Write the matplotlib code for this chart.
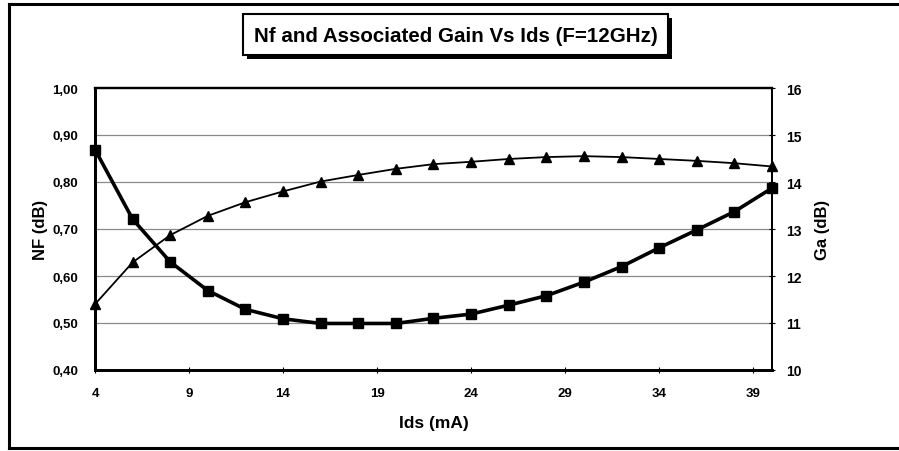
import numpy as np
import matplotlib
matplotlib.use("Agg")
import matplotlib.pyplot as plt
from matplotlib.patches import Rectangle
from matplotlib.lines import Line2D
from matplotlib.ticker import FuncFormatter

plt.rcParams['font.family'] = ['Liberation Sans', 'DejaVu Sans']
plt.rcParams['font.weight'] = 'bold'

# =========================================================
# DATA
# =========================================================
ids = [4, 6, 8, 10, 12, 14, 16, 18, 20, 22, 24, 26, 28, 30, 32, 34, 36, 38, 40]
nf = [0.869, 0.721, 0.630, 0.569, 0.529, 0.509, 0.499, 0.499, 0.499, 0.510, 0.519,
      0.538, 0.558, 0.587, 0.620, 0.660, 0.698, 0.737, 0.787]
ga = [11.40, 12.29, 12.87, 13.28, 13.57, 13.80, 14.01, 14.15, 14.28, 14.38, 14.43,
      14.49, 14.53, 14.55, 14.53, 14.49, 14.45, 14.40, 14.33]

x_ticks = [4, 9, 14, 19, 24, 29, 34, 39]
nf_ticks = [0.4, 0.5, 0.6, 0.7, 0.8, 0.9, 1.0]
ga_ticks = [10, 11, 12, 13, 14, 15, 16]

title = "Nf and Associated Gain Vs Ids (F=12GHz)"

# =========================================================
# FIGURE
# =========================================================
W, H = 899, 452
fig = plt.figure(figsize=(W / 100, H / 100), dpi=100)


def px(x, y):
    # pixel (from top-left) -> figure fraction
    return x / W, 1 - y / H


# outer frame
for (x0, y0, x1, y1) in [(9, 5, 899, 5), (9, 5, 9, 449), (9, 449, 899, 449)]:
    a, b = px(x0, y0)
    c, d = px(x1, y1)
    fig.add_artist(Line2D([a, c], [b, d], color="black", lw=2.2,
                          transform=fig.transFigure))

# title box with shadow
bx0, by0, bx1, by1 = 243, 15, 668, 56
fig.add_artist(Rectangle(px(bx0 + 4, by1 + 4), (bx1 - bx0) / W, (by1 - by0) / H,
                         transform=fig.transFigure, facecolor="black",
                         edgecolor="black", lw=0))
fig.add_artist(Rectangle(px(bx0, by1), (bx1 - bx0) / W, (by1 - by0) / H,
                         transform=fig.transFigure, facecolor="white",
                         edgecolor="black", lw=1.5))
tx, ty = px((bx0 + bx1) / 2, 37)
fig.text(tx, ty, title, ha="center", va="center", fontsize=14.8, fontweight="bold")

# axes
l, t = px(95, 89)
r, b = px(772, 371)
ax = fig.add_axes([l, b, r - l, t - b])
ax2 = ax.twinx()

ax.set_xlim(4, 40)
ax.set_ylim(0.4, 1.0)
ax2.set_ylim(10, 16)

for y in nf_ticks[1:-1]:
    ax.axhline(y, color="#8a8a8a", lw=0.9, zorder=1)

ax.plot(ids, nf, color="black", lw=2.6, marker="s", markersize=7.5, zorder=3,
        clip_on=False)
ax2.plot(ids, ga, color="black", lw=1.3, marker="^", markersize=6.5, zorder=3,
         clip_on=False)

ax.set_xticks(x_ticks)
ax.set_yticks(nf_ticks)
ax2.set_yticks(ga_ticks)
ax.yaxis.set_major_formatter(FuncFormatter(lambda v, p: f"{v:.2f}".replace(".", ",")))

ax.tick_params(axis="x", direction="inout", length=4, width=0.8, labelsize=9.5, pad=10)
ax.tick_params(axis="y", length=0, labelsize=9.5, pad=12)
ax2.tick_params(axis="y", direction="inout", length=5, width=0.8, labelsize=10, pad=8)

for lab in ax.get_xticklabels() + ax.get_yticklabels() + ax2.get_yticklabels():
    lab.set_fontweight("bold")

for s in ["left", "bottom"]:
    ax.spines[s].set_linewidth(2.0)
ax.spines["top"].set_linewidth(1.6)
ax.spines["right"].set_linewidth(1.4)
ax2.spines["right"].set_linewidth(1.4)
ax2.spines["top"].set_linewidth(1.6)
ax2.spines["left"].set_linewidth(2.0)
ax2.spines["bottom"].set_linewidth(2.0)

ax.set_ylabel("NF (dB)", fontsize=12, fontweight="bold", labelpad=3)
ax2.set_ylabel("Ga (dB)", fontsize=12, fontweight="bold", labelpad=9)
ax.set_xlabel("Ids (mA)", fontsize=12.5, fontweight="bold", labelpad=12)

plt.savefig("out.png", dpi=100)
plt.close()
